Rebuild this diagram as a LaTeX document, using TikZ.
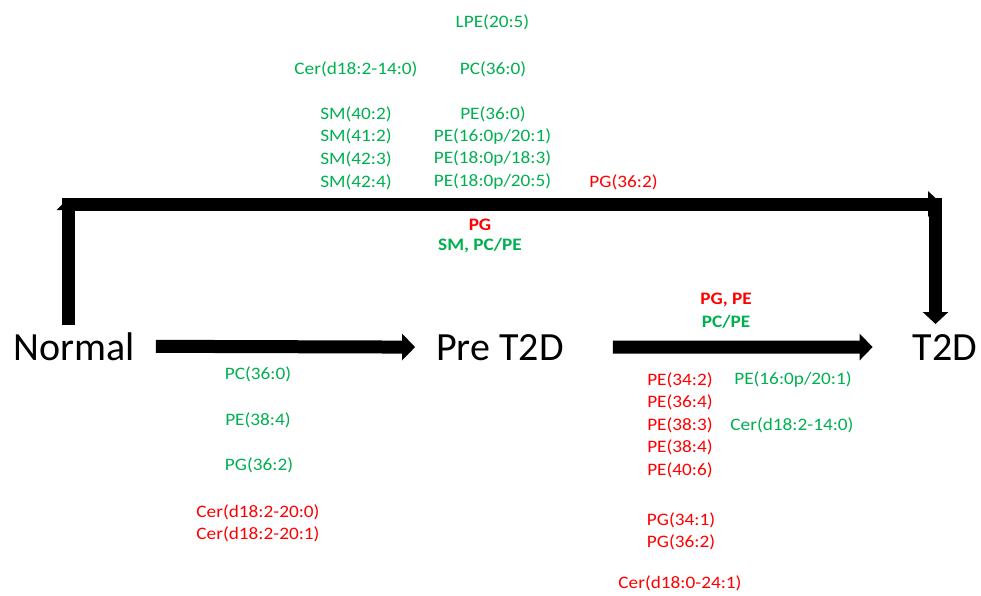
\documentclass[tikz,border=0pt]{standalone}
\usepackage{fontspec}
\setmainfont{Carlito}
\newfontfamily\labfont[FakeStretch=1.1]{Carlito}
\usetikzlibrary{arrows.meta}
\definecolor{lgreen}{RGB}{0,176,80}
\definecolor{lred}{RGB}{255,0,0}
\begin{document}
\begin{tikzpicture}[x=1pt,y=-1pt,
  big/.style={font=\fontsize{40}{48}\selectfont, inner sep=0pt, anchor=base},
  lab/.style={font=\labfont\fontsize{17.5}{21}\selectfont, inner sep=0pt, anchor=center},
  gtxt/.style={lab, text=lgreen},
  rtxt/.style={lab, text=lred},
  gbold/.style={gtxt, font=\labfont\bfseries\fontsize{17.5}{21}\selectfont},
  rbold/.style={rtxt, font=\labfont\bfseries\fontsize{17.5}{21}\selectfont},
  fat/.style={line width=13pt, line join=miter, -{Triangle[length=13pt,width=26pt]}}]
\useasboundingbox (0,0) rectangle (981,596);

% main states
\node[big] (normal) at (74,360) {Normal};
\node[big] (pre) at (500,360) {Pre T2D};
\node[big] (t2d) at (945,360) {T2D};

% arrows
\draw[fat, shorten <=21pt, shorten >=21pt] (normal.east) -- (pre.west);
\draw[fat, shorten <=49pt, shorten >=40pt] (pre.east) -- (t2d.west);

\coordinate (upstart) at (68.5,325);
\coordinate (upend) at (68.5,198);
\coordinate (hstart) at (62,204);
\coordinate (hend) at (942,204);
\coordinate (dstart) at (935.5,198);
\coordinate (dend) at (935.5,324);
\draw[line width=13pt, -{Triangle[length=12pt,width=23pt]}] (upstart) -- (upend);
\draw[line width=13pt, -{Triangle[length=14pt,width=25pt]}] (hstart) -- (hend);
\draw[line width=13pt, -{Triangle[length=12pt,width=25pt]}] (dstart) -- (dend);

% top block
\node[gtxt] (t1) at (492.5,22) {LPE(20:5)};
\node[gtxt] (t2) at (356,69) {Cer(d18:2-14:0)};
\node[gtxt] (t3) at (493,69) {PC(36:0)};
\node[gtxt] (t4) at (356,114) {SM(40:2)};
\node[gtxt] (t5) at (356,136.5) {SM(41:2)};
\node[gtxt] (t6) at (356,159) {SM(42:3)};
\node[gtxt] (t7) at (356,182) {SM(42:4)};
\node[gtxt] (t8) at (493,114) {PE(36:0)};
\node[gtxt] (t9) at (492.5,136.5) {PE(16:0p/20:1)};
\node[gtxt] (t10) at (492.5,159) {PE(18:0p/18:3)};
\node[gtxt] (t11) at (492.5,182) {PE(18:0p/20:5)};
\node[rtxt] (t12) at (623.5,182) {PG(36:2)};
\node[rbold] (t13) at (480,225) {PG};
\node[gbold] (t14) at (480,246) {SM, PC/PE};

% right middle
\node[rbold] (m1) at (726,300) {PG, PE};
\node[gbold] (m2) at (726,321.5) {PC/PE};

% bottom left
\node[gtxt] (b1) at (258,374.5) {PC(36:0)};
\node[gtxt] (b2) at (258,420) {PE(38:4)};
\node[gtxt] (b3) at (259,465) {PG(36:2)};
\node[rtxt] (b4) at (258,512) {Cer(d18:2-20:0)};
\node[rtxt] (b5) at (258,534) {Cer(d18:2-20:1)};

% bottom right
\node[rtxt] (c1) at (680,380) {PE(34:2)};
\node[rtxt] (c2) at (680,402) {PE(36:4)};
\node[rtxt] (c3) at (680,425) {PE(38:3)};
\node[rtxt] (c4) at (680,447) {PE(38:4)};
\node[rtxt] (c5) at (680,470) {PE(40:6)};
\node[rtxt] (c6) at (681,520) {PG(34:1)};
\node[rtxt] (c7) at (681,542) {PG(36:2)};
\node[rtxt] (c8) at (680,583) {Cer(d18:0-24:1)};
\node[gtxt] (c9) at (793,380) {PE(16:0p/20:1)};
\node[gtxt] (c10) at (792,425) {Cer(d18:2-14:0)};
\end{tikzpicture}
\end{document}
